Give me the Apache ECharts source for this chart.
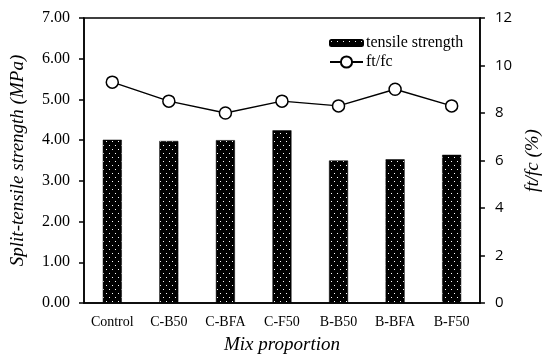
<!DOCTYPE html>
<html>
<head>
<meta charset="utf-8">
<script src="https://cdn.jsdelivr.net/npm/echarts@6/dist/echarts.min.js"></script>
<style>html,body{margin:0;padding:0;background:#fff}#c{width:550px;height:360px}</style>
</head>
<body>
<div id="c"></div>
<script>
const categories = ['Control', 'C-B50', 'C-BFA', 'C-F50', 'B-B50', 'B-BFA', 'B-F50'];
const tensileStrength = [4.01, 3.98, 4.00, 4.24, 3.50, 3.53, 3.64];
const ftfc = [9.3, 8.5, 8.0, 8.5, 8.3, 9.0, 8.3];
const leftTicks = { min: 0, max: 7, interval: 1 };
const rightTicks = { min: 0, max: 12, interval: 2 };

// dotted pattern fill
const pc = document.createElement('canvas');
pc.width = 6; pc.height = 8;
const px = pc.getContext('2d');
px.fillStyle = '#000'; px.fillRect(0, 0, 6, 8);
px.fillStyle = '#fff';
px.fillRect(1, 1, 1, 1);
px.fillRect(4, 5, 1, 1);

const serif = '"Liberation Serif", "Times New Roman", serif';
const chart = echarts.init(document.getElementById('c'));
chart.setOption({
  animation: false,
  grid: { left: 82, right: 61, top: 18, bottom: 57, show: true, borderColor: '#000', borderWidth: 1.5 },
  legend: [
    { data: ['tensile strength'], orient: 'vertical', left: 329, top: 35, padding: 0,
      itemWidth: 33, itemHeight: 6, itemGap: 2,
      textStyle: { fontFamily: serif, fontSize: 16, color: '#000', padding: [0, 0, 0, -2] } },
    { data: ['ft/fc'], orient: 'vertical', left: 329, top: 54, padding: 0,
      itemWidth: 33, itemHeight: 14,
      textStyle: { fontFamily: serif, fontSize: 16, color: '#000', padding: [0, 0, 0, -2] } }
  ],
  xAxis: {
    type: 'category', data: categories,
    name: 'Mix proportion', nameLocation: 'middle', nameGap: 32,
    nameTextStyle: { fontFamily: serif, fontStyle: 'italic', fontSize: 19, color: '#000' },
    axisLine: { lineStyle: { color: '#000', width: 1.5 } },
    axisTick: { show: false },
    axisLabel: { fontFamily: serif, fontSize: 14, color: '#000', margin: 12 }
  },
  yAxis: [
    { type: 'value', min: leftTicks.min, max: leftTicks.max, interval: leftTicks.interval,
      name: 'Split-tensile strength (MPa)', nameLocation: 'middle', nameGap: 57, nameRotate: 90,
      nameTextStyle: { fontFamily: serif, fontStyle: 'italic', fontSize: 19, color: '#000' },
      axisLine: { show: true, lineStyle: { color: '#000', width: 1.5 } },
      axisTick: { show: true, length: 5, lineStyle: { color: '#000', width: 1.5 } },
      splitLine: { show: false },
      axisLabel: { fontFamily: serif, fontSize: 16, color: '#000', margin: 14, formatter: v => v.toFixed(2) } },
    { type: 'value', min: rightTicks.min, max: rightTicks.max, interval: rightTicks.interval, position: 'right',
      name: 'ft/fc (%)', nameLocation: 'middle', nameGap: 43, nameRotate: 90,
      nameTextStyle: { fontFamily: serif, fontStyle: 'italic', fontSize: 19, color: '#000' },
      axisLine: { show: true, lineStyle: { color: '#000', width: 1.5 } },
      axisTick: { show: true, length: 5, lineStyle: { color: '#000', width: 1.5 } },
      splitLine: { show: false },
      axisLabel: { fontFamily: '"Open Sans", sans-serif', fontSize: 15, color: '#000', margin: 15 } }
  ],
  series: [
    { name: 'tensile strength', type: 'bar', yAxisIndex: 0, data: tensileStrength, barWidth: 19,
      itemStyle: { color: { image: pc, repeat: 'repeat' }, borderColor: '#000', borderWidth: 0.5 } },
    { name: 'ft/fc', type: 'line', yAxisIndex: 1, data: ftfc,
      symbol: 'circle', symbolSize: 12,
      lineStyle: { color: '#000', width: 1.5 },
      itemStyle: { color: '#fff', borderColor: '#000', borderWidth: 1.5 } }
  ]
});
</script>
</body>
</html>
